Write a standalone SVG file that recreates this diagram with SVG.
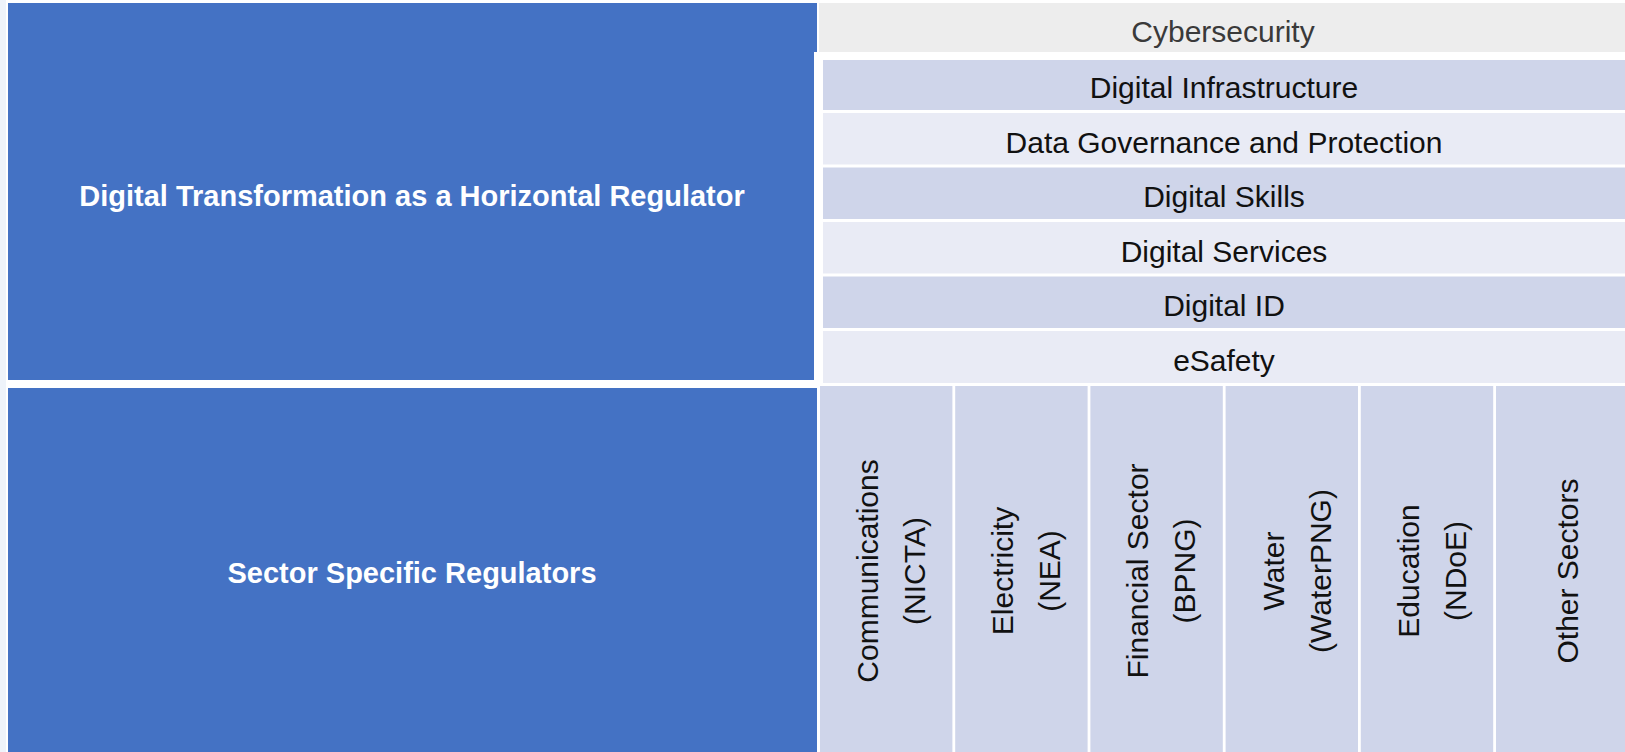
<svg xmlns="http://www.w3.org/2000/svg" width="1625" height="752" viewBox="0 0 1625 752">
  <style>
    .blue { fill: #4472C4; }
    .rowA { fill: #CFD5EA; }
    .rowB { fill: #E9EBF5; }
    .cyber { fill: #EDEDED; }
    .col { fill: #CFD5EA; }
    .hdr { font-family: "Liberation Sans", Arial, sans-serif; font-weight: bold; font-size: 29px; fill: #FFFFFF; text-anchor: middle; }
    .lbl { font-family: "Liberation Sans", Arial, sans-serif; font-size: 30px; fill: #111111; text-anchor: middle; }
    .lblg { font-family: "Liberation Sans", Arial, sans-serif; font-size: 30px; fill: #3A3A3A; text-anchor: middle; }
  </style>
  <rect x="0" y="0" width="1625" height="752" fill="#FFFFFF"/>
  <rect x="0" y="0" width="6" height="752" fill="#EEF3FA"/>

  <g id="horizontal-regulator">
    <path class="blue" d="M8 3 H817 V52 H814 V380 H8 Z"/>
    <text class="hdr" x="412" y="206">Digital Transformation as a Horizontal Regulator</text>
  </g>

  <g id="sector-regulators">
    <rect class="blue" x="8" y="388" width="809" height="364"/>
    <text class="hdr" x="412" y="583">Sector Specific Regulators</text>
  </g>

  <g id="cybersecurity">
    <rect class="cyber" x="819" y="3" width="806" height="49"/>
    <text class="lblg" x="1223" y="42">Cybersecurity</text>
  </g>
  <g id="digital-infrastructure">
    <rect class="rowA" x="823" y="60" width="802" height="50"/>
    <text class="lbl" x="1224" y="98">Digital Infrastructure</text>
  </g>
  <g id="data-governance">
    <rect class="rowB" x="823" y="113" width="802" height="51.5"/>
    <text class="lbl" x="1224" y="153">Data Governance and Protection</text>
  </g>
  <g id="digital-skills">
    <rect class="rowA" x="823" y="167.5" width="802" height="51.5"/>
    <text class="lbl" x="1224" y="207">Digital Skills</text>
  </g>
  <g id="digital-services">
    <rect class="rowB" x="823" y="222" width="802" height="51.5"/>
    <text class="lbl" x="1224" y="262">Digital Services</text>
  </g>
  <g id="digital-id">
    <rect class="rowA" x="823" y="276.5" width="802" height="51.5"/>
    <text class="lbl" x="1224" y="315.5">Digital ID</text>
  </g>
  <g id="esafety">
    <rect class="rowB" x="823" y="331" width="802" height="52"/>
    <text class="lbl" x="1224" y="371">eSafety</text>
  </g>

  <g id="communications">
    <rect class="col" x="820" y="386" width="132.4" height="366"/>
    <text class="lbl" transform="translate(878 571) rotate(-90)">Communications</text>
    <text class="lbl" transform="translate(925 571) rotate(-90)">(NICTA)</text>
  </g>
  <g id="electricity">
    <rect class="col" x="955.2" y="386" width="132.4" height="366"/>
    <text class="lbl" transform="translate(1013.2 571) rotate(-90)">Electricity</text>
    <text class="lbl" transform="translate(1060.2 571) rotate(-90)">(NEA)</text>
  </g>
  <g id="financial-sector">
    <rect class="col" x="1090.4" y="386" width="132.4" height="366"/>
    <text class="lbl" transform="translate(1148.4 571) rotate(-90)">Financial Sector</text>
    <text class="lbl" transform="translate(1195.4 571) rotate(-90)">(BPNG)</text>
  </g>
  <g id="water">
    <rect class="col" x="1225.6" y="386" width="132.4" height="366"/>
    <text class="lbl" transform="translate(1283.6 571) rotate(-90)">Water</text>
    <text class="lbl" transform="translate(1330.6 571) rotate(-90)">(WaterPNG)</text>
  </g>
  <g id="education">
    <rect class="col" x="1360.8" y="386" width="132.4" height="366"/>
    <text class="lbl" transform="translate(1418.8 571) rotate(-90)">Education</text>
    <text class="lbl" transform="translate(1465.8 571) rotate(-90)">(NDoE)</text>
  </g>
  <g id="other-sectors">
    <rect class="col" x="1496" y="386" width="129" height="366"/>
    <text class="lbl" transform="translate(1578 571) rotate(-90)">Other Sectors</text>
  </g>

  <g id="connectors"/>
</svg>
